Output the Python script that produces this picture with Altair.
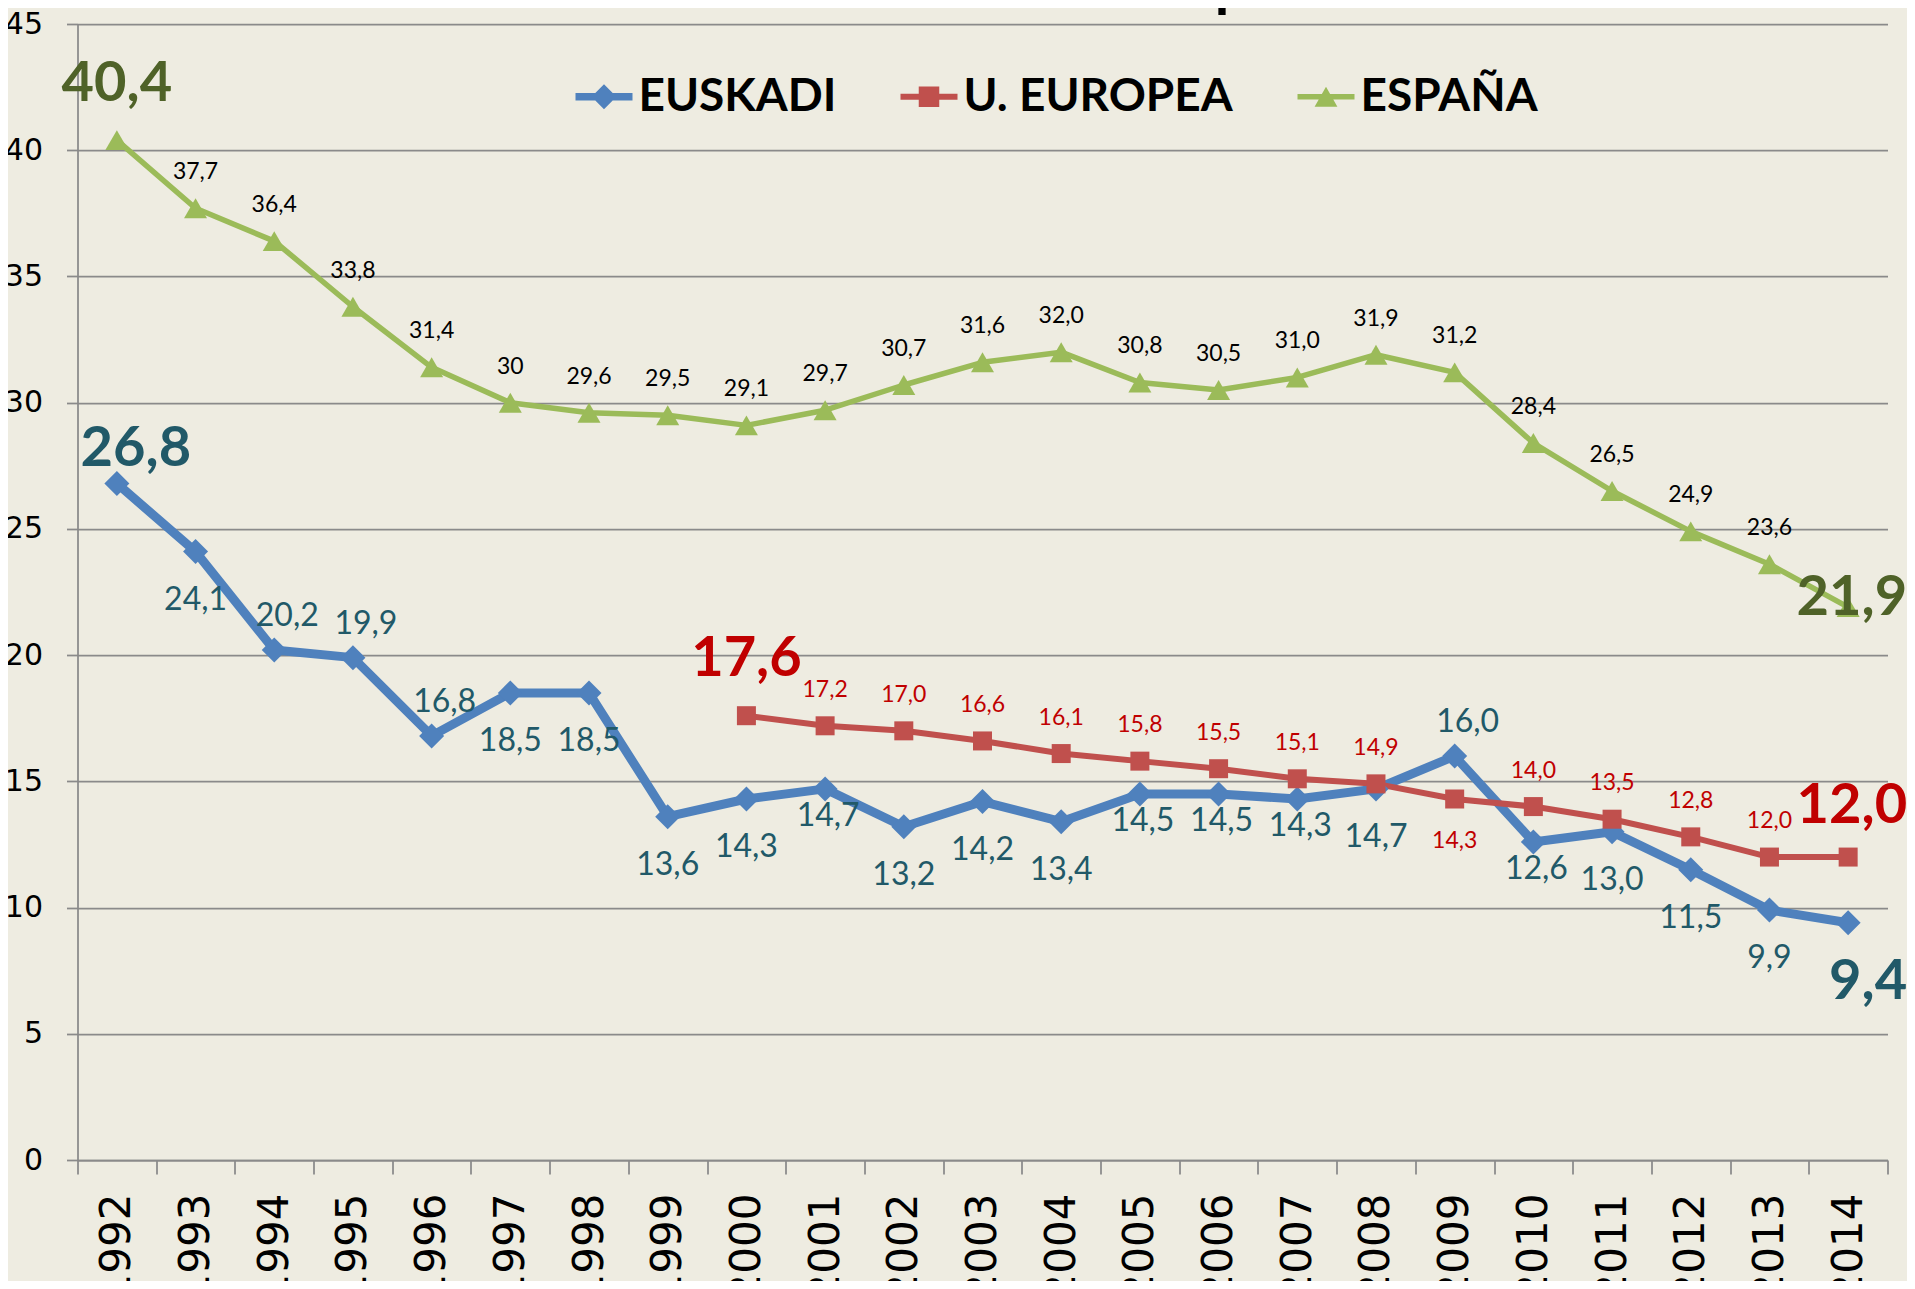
import altair as alt
import pandas as pd

# ---------------- data ----------------
years = [str(y) for y in range(1992, 2015)]
series = ["EUSKADI", "U. EUROPEA", "ESPAÑA"]

euskadi = [26.8, 24.1, 20.2, 19.9, 16.8, 18.5, 18.5, 13.6, 14.3, 14.7, 13.2, 14.2,
           13.4, 14.5, 14.5, 14.3, 14.7, 16.0, 12.6, 13.0, 11.5, 9.9, 9.4]
ue_years = [str(y) for y in range(2000, 2015)]
ue = [17.6, 17.2, 17.0, 16.6, 16.1, 15.8, 15.5, 15.1, 14.9, 14.3, 14.0, 13.5, 12.8, 12.0, 12.0]
espana = [40.4, 37.7, 36.4, 33.8, 31.4, 30.0, 29.6, 29.5, 29.1, 29.7, 30.7, 31.6,
          32.0, 30.8, 30.5, 31.0, 31.9, 31.2, 28.4, 26.5, 24.9, 23.6, 21.9]
# label text exceptions as printed in the original
label_override = {("ESPAÑA", "1997"): "30"}

title_text = "Evolución del abandono escolar temprano 1992-2014"

# ---------------- styles ----------------
colors = ["#4F81BD", "#C0504D", "#9BBB59"]
widths = [9, 6, 5.5]
markers = [("diamond", 625), ("square", 361), ("triangle-up", 529)]
legend_paths = [
    "M-1,-0.135 L-0.305,-0.135 L0,-0.44 L0.305,-0.135 L1,-0.135 L1,0.135 L0.305,0.135 L0,0.44 L-0.305,0.135 L-1,0.135 Z",
    "M-1,-0.105 L-0.36,-0.105 L-0.36,-0.36 L0.36,-0.36 L0.36,-0.105 L1,-0.105 L1,0.105 L0.36,0.105 L0.36,0.36 L-0.36,0.36 L-0.36,0.105 L-1,0.105 Z",
    "M-1,-0.096 L-0.145,-0.096 L0,-0.35 L0.145,-0.096 L1,-0.096 L1,0.096 L0.255,0.096 L0.4,0.35 L-0.4,0.35 L-0.255,0.096 L-1,0.096 Z",
]

BLUE_TXT = "#215968"
RED_TXT = "#C00000"
GREEN_TXT = "#4F6228"

big = {("ESPAÑA", "1992"): "es_first", ("ESPAÑA", "2014"): "es_last",
       ("EUSKADI", "1992"): "eu_first", ("EUSKADI", "2014"): "eu_last",
       ("U. EUROPEA", "2000"): "ue_first", ("U. EUROPEA", "2014"): "ue_last"}
eus_near = {"2001", "2005", "2006", "2007", "2010"}
eus_above = {"1994", "1995", "1996", "2009"}
ue_below = {"2009"}

# group -> (fontSize, bold, color, dx, dy, align)
styles = {
    "es_reg": (23, False, "#000000", 0, -29, "center"),
    "ue_reg": (23, False, RED_TXT, 0, -29, "center"),
    "ue_below": (23, False, RED_TXT, 0, 49, "center"),
    "eu_below": (32, False, BLUE_TXT, 0, 58, "center"),
    "eu_near": (32, False, BLUE_TXT, 3, 37, "center"),
    "eu_above": (32, False, BLUE_TXT, 13, -24, "center"),
    "es_first": (56, True, GREEN_TXT, 0, -39, "center"),
    "es_last": (56, True, GREEN_TXT, 59, 8, "right"),
    "eu_first": (56, True, BLUE_TXT, 19, -17, "center"),
    "eu_last": (56, True, BLUE_TXT, 59, 76, "right"),
    "ue_first": (56, True, RED_TXT, 0, -40, "center"),
    "ue_last": (56, True, RED_TXT, 59, -34, "right"),
}


def group_of(s, y):
    if (s, y) in big:
        return big[(s, y)]
    if s == "ESPAÑA":
        return "es_reg"
    if s == "U. EUROPEA":
        return "ue_below" if y in ue_below else "ue_reg"
    if y in eus_near:
        return "eu_near"
    if y in eus_above:
        return "eu_above"
    return "eu_below"


rows = []
for s, ys, vs in [("EUSKADI", years, euskadi), ("U. EUROPEA", ue_years, ue), ("ESPAÑA", years, espana)]:
    for y, v in zip(ys, vs):
        lab = label_override.get((s, y), f"{v:.1f}".replace(".", ","))
        rows.append({"series": s, "year": y, "value": v, "label": lab, "grp": group_of(s, y)})
df = pd.DataFrame(rows)

GRID = "#8a8a8a"

x_enc = alt.X(
    "year:O",
    scale=alt.Scale(type="band", domain=years, paddingInner=0, paddingOuter=0),
    axis=alt.Axis(title=None, tickBand="extent", labelAngle=270, labelFont="DejaVu Sans",
                  labelFontSize=42, labelColor="#000000", labelPadding=19, tickSize=14,
                  tickColor=GRID, tickWidth=1.75, domainColor=GRID, domainWidth=1.75,
                  grid=False, labelOverlap=False),
)
y_enc = alt.Y(
    "value:Q",
    scale=alt.Scale(domain=[0, 45], nice=False, zero=True),
    axis=alt.Axis(title=None, values=list(range(0, 50, 5)), labelFont="DejaVu Sans",
                  labelFontSize=30, labelColor="#000000", labelPadding=24, tickSize=11,
                  tickColor=GRID, tickWidth=1.75, domainColor=GRID, domainWidth=1.75,
                  grid=True, gridColor=GRID, gridWidth=1.75),
)

base = alt.Chart(df).encode(x=x_enc, y=y_enc)

lines = []
points = []
for s, c, w, (shp, sz) in zip(series, colors, widths, markers):
    sub = base.transform_filter(alt.datum.series == s)
    lines.append(sub.mark_line(strokeJoin="round", strokeCap="round", color=c, strokeWidth=w))
    points.append(sub.mark_point(shape=shp, size=sz, filled=True, opacity=1, color=c, strokeWidth=0))

# legend: built from the series scale domain (the layer itself draws no marks)
legend_def = alt.Legend(title=None, orient="none", legendX=498, legendY=44, direction="horizontal",
                        symbolSize=3249, symbolOpacity=1, symbolStrokeWidth=0,
                        labelFont="Lato", labelFontSize=46, labelFontWeight="bold",
                        labelColor="#000000", labelOffset=6, columnPadding=64, padding=0,
                        labelLimit=0)
legend_layer = base.transform_filter("false").mark_point(filled=True, opacity=1).encode(
    color=alt.Color("series:N", scale=alt.Scale(domain=series, range=colors), legend=legend_def),
    shape=alt.Shape("series:N", scale=alt.Scale(domain=series, range=legend_paths), legend=legend_def),
)

texts = []
for g, (fs, bold, col, dx, dy, al) in styles.items():
    texts.append(
        base.transform_filter(alt.datum.grp == g).mark_text(
            font="Lato", fontSize=fs, fontWeight="bold" if bold else "normal", color=col,
            dx=dx, dy=dy, align=al, baseline="alphabetic").encode(text="label:N")
    )

chart = alt.layer(*lines, *points, legend_layer, *texts).properties(
    width=1810,
    height=1136,
    padding={"left": 69.5, "top": 16, "right": 19.5, "bottom": 121},
    autosize=alt.AutoSizeParams(type="none"),
    title=alt.TitleParams(title_text, font="Lato", fontSize=59, fontWeight="bold", color="#000000",
                          anchor="middle", orient="top", frame="group", baseline="bottom",
                          offset=-67, dx=-7),
).configure(background="#EEECE1").configure_view(stroke=None)

chart.save("out.html", embed_options={"renderer": "svg", "actions": False})
